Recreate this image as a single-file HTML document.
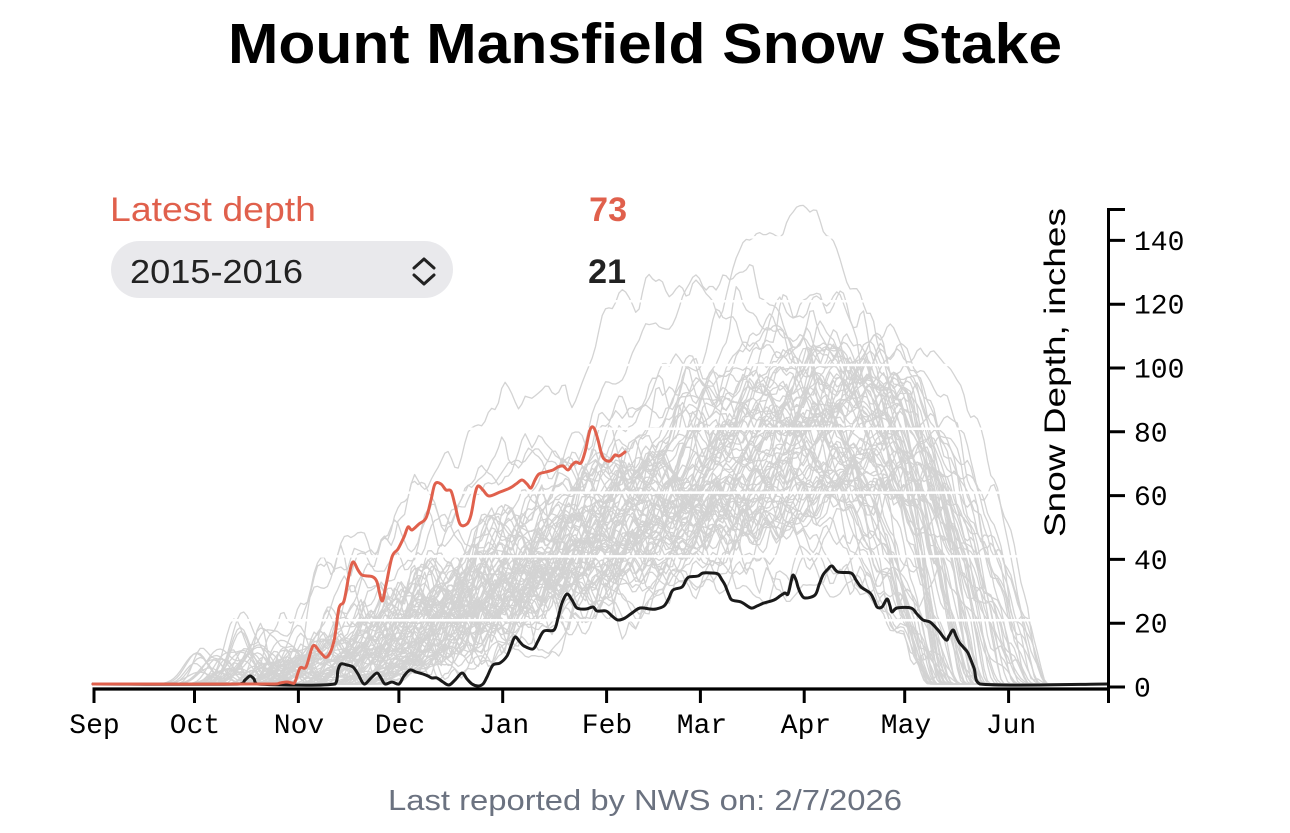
<!DOCTYPE html>
<html>
<head>
<meta charset="utf-8">
<style>
  html,body{margin:0;padding:0;background:#fff;}
  svg{display:block;}
  .sans{font-family:"Liberation Sans",sans-serif;}
  .mono{font-family:"Liberation Mono",monospace;}
</style>
</head>
<body>
<svg id="chart" width="1290" height="833" viewBox="0 0 1290 833" xmlns="http://www.w3.org/2000/svg">
  <rect x="0" y="0" width="1290" height="833" fill="#fff"/>

  <!-- Title -->
  <text class="sans" x="228" y="63" font-size="57" font-weight="bold" fill="#000" textLength="834" lengthAdjust="spacingAndGlyphs">Mount Mansfield Snow Stake</text>

  <!-- gray historical seasons (generated) -->
  <g id="gray" fill="none" stroke="#d3d3d3" stroke-width="1.3" stroke-linejoin="round"></g>

  <!-- white gridlines -->
  <g stroke="#fff" stroke-width="2.5">
    <line x1="93" y1="620.2" x2="1100" y2="620.2"/>
    <line x1="93" y1="556.4" x2="1100" y2="556.4"/>
    <line x1="93" y1="492.6" x2="1100" y2="492.6"/>
    <line x1="93" y1="428.8" x2="1100" y2="428.8"/>
    <line x1="93" y1="365" x2="1100" y2="365"/>
    <line x1="93" y1="301.2" x2="1100" y2="301.2"/>
    <line x1="93" y1="237.4" x2="1100" y2="237.4"/>
  </g>

  <!-- 2015-2016 season (black) -->
  <polyline id="blk" fill="none" stroke="#1a1a1a" stroke-width="3" stroke-linejoin="round" stroke-linecap="round"
    points="93,684 240,684 245,680 250,676 254,679 257,684 335,684 338,670 341,664 347,665 353,667 358,674 364,684 371,678 377,673 381,678 385,684 392,682 399,684 404,676 410,670 416,672 423,674 428,676 432,678 437,678 443,682 449,685 455,680 462,673 467,679 472,684 478,686 483,684 487,677 493,665 500,663 507,656 511,646 515,637 520,642 524,646 533,649 538,641 544,631 554,630 558,618 562,603 567,594 572,600 577,608 586,609 593,607 597,611 606,611 612,616 618,620 625,618 632,613 640,608 650,609 656,609 664,606 669,598 673,590 682,587 686,580 689,577 698,576 703,573 712,573 718,574 722,580 725,585 729,595 732,600 741,602 751,608 757,606 764,603 774,600 780,596 785,593 788,594 791,582 793,575 796,580 798,587 801,594 805,598 815,595 819,585 823,575 828,569 832,566 838,572 851,573 856,580 861,587 870,593 874,600 877,607 882,607 887,599 890,606 892,612 897,608 911,608 917,614 923,620 930,622 938,630 946,640 949,636 953,630 956,636 959,642 964,648 968,653 974,668 980,684 1108,684"/>

  <!-- current season (red) -->
  <polyline id="red" fill="none" stroke="#e0604c" stroke-width="3" stroke-linejoin="round" stroke-linecap="round"
    points="93,684 275,684 280,683 287,682 292,683 295,682 300,668 306,667 313,646 320,652 327,657 334,641 339,608 344,601 349,575 353,562 358,570 362,575 368,576 373,577 377,582 382,601 386,585 392,557 398,549 404,537 408,527 412,530 419,524 426,518 431,500 435,484 441,484 446,490 451,491 455,505 460,524 467,524 471,515 475,494 478,486 483,490 489,496 500,492 510,488 516,484 522,480 527,484 531,488 535,480 539,474 546,472 553,470 558,467 563,466 568,470 572,465 576,462 581,463 585,452 590,430 594,428 598,440 601,452 604,459 610,461 615,455 619,456 625,452"/>

  <!-- X axis -->
  <g stroke="#000" stroke-width="3" fill="none">
    <line x1="92.5" y1="689" x2="1110" y2="689" stroke-width="3.3"/>
    <line x1="94" y1="689" x2="94" y2="703"/>
    <line x1="194.5" y1="689" x2="194.5" y2="703"/>
    <line x1="298.4" y1="689" x2="298.4" y2="703"/>
    <line x1="398.9" y1="689" x2="398.9" y2="703"/>
    <line x1="502.7" y1="689" x2="502.7" y2="703"/>
    <line x1="606.6" y1="689" x2="606.6" y2="703"/>
    <line x1="700.4" y1="689" x2="700.4" y2="703"/>
    <line x1="804.2" y1="689" x2="804.2" y2="703"/>
    <line x1="904.7" y1="689" x2="904.7" y2="703"/>
    <line x1="1008.6" y1="689" x2="1008.6" y2="703"/>
  </g>
  <g class="mono" font-size="28" fill="#000" text-anchor="middle">
    <text x="94.5" y="733">Sep</text>
    <text x="195" y="733">Oct</text>
    <text x="299" y="733">Nov</text>
    <text x="400" y="733">Dec</text>
    <text x="504" y="733">Jan</text>
    <text x="607" y="733">Feb</text>
    <text x="702" y="733">Mar</text>
    <text x="806" y="733">Apr</text>
    <text x="906" y="733">May</text>
    <text x="1011" y="733">Jun</text>
  </g>

  <!-- Y axis -->
  <g stroke="#000" stroke-width="3" fill="none">
    <line x1="1108.5" y1="209.5" x2="1108.5" y2="703"/>
    <line x1="1107" y1="209.5" x2="1125" y2="209.5"/>
    <line x1="1108.5" y1="687" x2="1125" y2="687"/>
    <line x1="1108.5" y1="623.2" x2="1125" y2="623.2"/>
    <line x1="1108.5" y1="559.4" x2="1125" y2="559.4"/>
    <line x1="1108.5" y1="495.6" x2="1125" y2="495.6"/>
    <line x1="1108.5" y1="431.8" x2="1125" y2="431.8"/>
    <line x1="1108.5" y1="368" x2="1125" y2="368"/>
    <line x1="1108.5" y1="304.2" x2="1125" y2="304.2"/>
    <line x1="1108.5" y1="240.4" x2="1125" y2="240.4"/>
  </g>
  <g class="mono" font-size="28" fill="#000">
    <text x="1134" y="696.5">0</text>
    <text x="1134" y="632.7">20</text>
    <text x="1134" y="568.9">40</text>
    <text x="1134" y="505.1">60</text>
    <text x="1134" y="441.3">80</text>
    <text x="1134" y="377.5">100</text>
    <text x="1134" y="313.7">120</text>
    <text x="1134" y="249.9">140</text>
  </g>
  <text class="sans" transform="translate(1065,372.5) rotate(-90)" x="0" y="0" font-size="30" fill="#000" text-anchor="middle" textLength="329" lengthAdjust="spacingAndGlyphs">Snow Depth, inches</text>

  <!-- Legend -->
  <text class="sans" x="110" y="221" font-size="34" fill="#e0604c" textLength="206" lengthAdjust="spacingAndGlyphs">Latest depth</text>
  <text class="sans" x="627" y="221" font-size="34" font-weight="bold" fill="#e0604c" text-anchor="end">73</text>
  <rect x="111" y="241" width="342" height="57" rx="28.5" ry="28.5" fill="#e9e9ec"/>
  <text class="sans" x="130" y="283" font-size="33" fill="#222" textLength="173" lengthAdjust="spacingAndGlyphs">2015-2016</text>
  <path d="M414,268 L424,259 L434,268 M414,275 L424,284 L434,275" fill="none" stroke="#222" stroke-width="3" stroke-linecap="round" stroke-linejoin="round"/>
  <text class="sans" x="626" y="283" font-size="34" font-weight="bold" fill="#222" text-anchor="end">21</text>

  <!-- Footer -->
  <text class="sans" x="388" y="810" font-size="29" fill="#6b7280" textLength="514" lengthAdjust="spacingAndGlyphs">Last reported by NWS on: 2/7/2026</text>
</svg>
<script>
(function(){
  function rng(a){return function(){a|=0;a=a+0x6D2B79F5|0;var t=Math.imul(a^a>>>15,1|a);t=t+Math.imul(t^t>>>7,61|t)^t;return((t^t>>>14)>>>0)/4294967296;};}
  var R=rng(7734211);
  function G(){var u=1-R(),v=R();return Math.sqrt(-2*Math.log(u))*Math.cos(2*Math.PI*v);}
  var ns='http://www.w3.org/2000/svg';
  var g=document.getElementById('gray');
  var N=78,D=303;
  for(var k=0;k<N;k++){
    var S=40+R()*48;
    var P=Math.max(30,Math.min(116,84+G()*17));
    var E=248+37*Math.pow(R(),1.2);
    var M=26+R()*30;
    var Dp=Math.max(182,Math.min(238,E-M));
    var ex=0.72+R()*0.45;
    var me=1.3+R()*1.3;
    if(k===0){S=62;P=143;Dp=214;E=262;ex=0.6;me=1.3;}
    if(k===1){S=50;P=110;Dp=205;E=262;ex=0.55;}
    if(k===2){S=68;P=122;Dp=195;E=256;ex=0.75;}
    if(k===3){S=72;P=42;Dp=200;E=250;ex=1.0;}
    var bumps=[],nb=Math.floor(R()*3.4);
    for(var b=0;b<nb;b++)bumps.push([30+R()*Math.max(5,S-22),2+R()*10,2+R()*4]);
    var n=0,m=0,vals=[];
    for(var d=0;d<=D;d++){
      n=0.9*n+G()*2.3;
      m=0.5*m+G()*1.6;
      var base=0;
      if(d>S&&d<=Dp)base=P*Math.pow((d-S)/(Dp-S),ex);
      else if(d>Dp&&d<E)base=P*(1-Math.pow((d-Dp)/(E-Dp),me));
      var v=base;
      if(base>0)v+=(n*1.3+m)*Math.min(1,base/18);
      for(var q=0;q<bumps.length;q++){var z=(d-bumps[q][0])/bumps[q][2];v+=bumps[q][1]*Math.exp(-z*z);}
      vals.push(Math.max(0,v));
    }
    var s2=vals.slice();for(var d2=1;d2<D;d2++)s2[d2]=(vals[d2-1]+vals[d2]*2+vals[d2+1])/4;vals=s2;
    var ds='';
    for(var d3=0;d3<=D;d3++){ds+=(d3?'L':'M')+(93+d3*3.35).toFixed(1)+','+(684-3.19*vals[d3]).toFixed(1);}
    var path=document.createElementNS(ns,'path');
    path.setAttribute('d',ds);
    g.appendChild(path);
  }
  function smooth(id){
    var el=document.getElementById(id);
    var pts=el.getAttribute('points').trim().split(/\s+/).map(function(s){var a=s.split(',');return [+a[0],+a[1]];});
    var d='M'+pts[0][0]+','+pts[0][1];
    for(var i=0;i<pts.length-1;i++){
      var p0=pts[i>0?i-1:i],p1=pts[i],p2=pts[i+1],p3=pts[i+2<pts.length?i+2:i+1];
      var c1x=p1[0]+(p2[0]-p0[0])/6,c1y=p1[1]+(p2[1]-p0[1])/6;
      var c2x=p2[0]-(p3[0]-p1[0])/6,c2y=p2[1]-(p3[1]-p1[1])/6;
      if(c1x>p2[0])c1x=p2[0]; if(c2x<p1[0])c2x=p1[0];
      d+='C'+c1x.toFixed(1)+','+c1y.toFixed(1)+' '+c2x.toFixed(1)+','+c2y.toFixed(1)+' '+p2[0]+','+p2[1];
    }
    var p=document.createElementNS(ns,'path');
    p.setAttribute('d',d);
    ['fill','stroke','stroke-width','stroke-linejoin','stroke-linecap'].forEach(function(a){p.setAttribute(a,el.getAttribute(a));});
    el.parentNode.replaceChild(p,el);
  }
  smooth('blk');smooth('red');
})();
</script>
</body>
</html>
